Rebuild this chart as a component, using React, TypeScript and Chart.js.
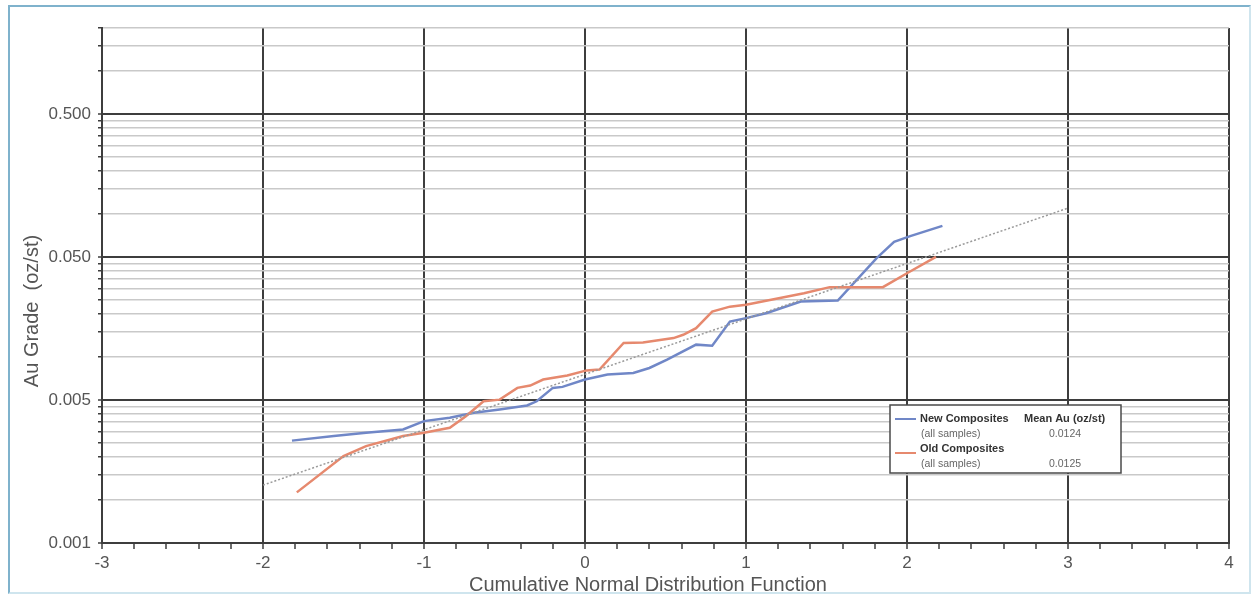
import { useEffect, useRef } from 'react';
import { Chart, registerables } from 'chart.js';

Chart.register(...registerables);

// Normal-score (z) positions and Au grades (oz/st) for each composite set
const newZ = [-1.82, -1.56, -1.36, -1.13, -1.0, -0.84, -0.69, -0.53, -0.36, -0.3, -0.2, -0.14, 0.0, 0.14, 0.3, 0.4, 0.51, 0.69, 0.79, 0.9, 1.0, 1.13, 1.34, 1.57, 1.81, 1.92, 2.02, 2.22];
const newAu = [0.0026, 0.0028, 0.00295, 0.00311, 0.00356, 0.00376, 0.00407, 0.0043, 0.00458, 0.0049, 0.00608, 0.00618, 0.00695, 0.00753, 0.00774, 0.00838, 0.00958, 0.0122, 0.012, 0.0177, 0.0187, 0.0203, 0.0244, 0.0248, 0.049, 0.064, 0.07, 0.0826];

const oldZ = [-1.79, -1.5, -1.36, -1.13, -1.0, -0.84, -0.74, -0.63, -0.53, -0.42, -0.34, -0.26, -0.11, 0.01, 0.09, 0.24, 0.36, 0.55, 0.61, 0.69, 0.79, 0.9, 1.0, 1.36, 1.52, 1.85, 2.0, 2.18];
const oldAu = [0.00113, 0.00203, 0.00238, 0.0028, 0.00295, 0.0032, 0.00385, 0.0049, 0.00503, 0.00608, 0.00631, 0.00695, 0.00742, 0.00806, 0.00816, 0.01252, 0.01265, 0.01356, 0.0143, 0.0159, 0.0208, 0.0225, 0.0232, 0.0279, 0.0308, 0.0308, 0.0385, 0.0502];

// Lognormal reference line
const trendZ = [-2, 3];
const trendAu = [0.00127, 0.11];

// Legend contents
const seriesNames = ['New Composites', 'Old Composites'];
const seriesNotes = ['(all samples)', '(all samples)'];
const meanHeader = 'Mean Au (oz/st)';
const meanAu = ['0.0124', '0.0125'];
const seriesColors = ['#7087c7', '#e6896e'];

// Axes
const xMin = -3;
const xMax = 4;
const xMajorTicks = [-3, -2, -1, 0, 1, 2, 3, 4];
const xTickLabels = ['-3', '-2', '-1', '0', '1', '2', '3', '4'];
const yMin = 0.0005;
const yMax = 2;
const yMajorTicks = [0.0005, 0.005, 0.05, 0.5];
const yTickLabels = ['0.001', '0.005', '0.050', '0.500'];
const yMinorMultipliers = [2, 3, 4, 5, 6, 7, 8, 9, 10];
const xTitle = 'Cumulative Normal Distribution Function';
const yTitle = 'Au Grade  (oz/st)';

const FONT = '"Liberation Sans", Arial, Helvetica, sans-serif';
const MAJOR = '#3d3d3d';
const MINOR = '#c9c9c9';

const toPoints = (xs: number[], ys: number[]) => xs.map((x, i) => ({ x, y: ys[i] }));

const xTickValues: number[] = [];
for (let i = xMin * 5; i <= xMax * 5; i++) xTickValues.push(i / 5);

const yTickValues: number[] = [];
yMajorTicks.forEach((base) => {
  yTickValues.push(base);
  yMinorMultipliers.forEach((m) => {
    const v = base * m;
    if (v <= yMax * 1.0000001 && !yMajorTicks.some((b) => Math.abs(b - v) / b < 1e-6)) yTickValues.push(v);
  });
});

const isXMajor = (v: number) => xMajorTicks.some((m) => Math.abs(m - v) < 1e-6);
const yMajorIndex = (v: number) => yMajorTicks.findIndex((m) => Math.abs(m - v) / m < 1e-6);

const annotationPlugin = {
  id: 'gradeAnnotations',
  afterDraw(chart: any) {
    const { ctx, chartArea } = chart;
    ctx.save();

    // axis titles
    ctx.fillStyle = '#555';
    ctx.font = `20px ${FONT}`;
    ctx.textAlign = 'center';
    ctx.textBaseline = 'middle';
    ctx.fillText(xTitle, chartArea.left + 546, chartArea.bottom + 42);
    ctx.save();
    ctx.translate(chartArea.left - 70, chartArea.top + 283);
    ctx.rotate(-Math.PI / 2);
    ctx.fillText(yTitle, 0, 0);
    ctx.restore();

    // legend box
    const left = chartArea.right - 339;
    const top = chartArea.bottom - 138;
    const w = 231;
    const h = 68;
    ctx.fillStyle = '#ffffff';
    ctx.fillRect(left, top, w, h);
    ctx.strokeStyle = '#4a4a4a';
    ctx.lineWidth = 1.5;
    ctx.strokeRect(left, top, w, h);

    ctx.textAlign = 'left';
    ctx.textBaseline = 'middle';
    ctx.fillStyle = '#333';
    ctx.font = `bold 11px ${FONT}`;
    ctx.fillText(meanHeader, left + 134, top + 14);

    seriesNames.forEach((name, i) => {
      const ny = top + 14 + i * 30;
      ctx.strokeStyle = seriesColors[i];
      ctx.lineWidth = 2;
      ctx.beginPath();
      ctx.moveTo(left + 5, ny + i * 4);
      ctx.lineTo(left + 26, ny + i * 4);
      ctx.stroke();

      ctx.textAlign = 'left';
      ctx.fillStyle = '#333';
      ctx.font = `bold 11px ${FONT}`;
      ctx.fillText(name, left + 30, ny);

      ctx.fillStyle = '#666';
      ctx.font = `10.5px ${FONT}`;
      ctx.fillText(seriesNotes[i], left + 31, ny + 15);
      ctx.textAlign = 'center';
      ctx.fillText(meanAu[i], left + 175, ny + 15);
    });

    ctx.restore();
  },
};

export default function App() {
  const ref = useRef<HTMLCanvasElement>(null);

  useEffect(() => {
    const chart = new Chart(ref.current as HTMLCanvasElement, {
      type: 'scatter',
      data: {
        datasets: [
          {
            label: 'trend',
            data: toPoints(trendZ, trendAu),
            showLine: true,
            borderColor: '#9a9a9a',
            borderWidth: 1.5,
            borderDash: [2, 2],
            pointRadius: 0,
          },
          {
            label: seriesNames[1],
            data: toPoints(oldZ, oldAu),
            showLine: true,
            borderColor: seriesColors[1],
            borderWidth: 2.5,
            pointRadius: 0,
          },
          {
            label: seriesNames[0],
            data: toPoints(newZ, newAu),
            showLine: true,
            borderColor: seriesColors[0],
            borderWidth: 2.5,
            pointRadius: 0,
          },
        ],
      },
      options: {
        responsive: false,
        animation: false,
        devicePixelRatio: 1,
        layout: { padding: { top: 28, right: 26, left: 0, bottom: 0 } },
        plugins: {
          legend: { display: false },
          tooltip: { enabled: false },
        },
        scales: {
          x: {
            type: 'linear',
            min: xMin,
            max: xMax,
            afterFit: (scale: any) => {
              scale.height = 52;
            },
            afterBuildTicks: (scale: any) => {
              scale.ticks = xTickValues.map((value) => ({ value }));
            },
            ticks: {
              autoSkip: false,
              maxRotation: 0,
              padding: 4,
              color: '#555',
              font: { family: FONT, size: 17 },
              callback: (v: any) => {
                const i = xMajorTicks.findIndex((m) => Math.abs(m - Number(v)) < 1e-6);
                return i >= 0 ? xTickLabels[i] : '';
              },
            },
            grid: {
              color: (c: any) => (c.tick && isXMajor(c.tick.value) ? MAJOR : 'rgba(0,0,0,0)'),
              lineWidth: 2,
              tickColor: MAJOR,
              tickLength: 6,
              tickWidth: 1.5,
            },
            border: { display: true, color: MAJOR, width: 2 },
          },
          y: {
            type: 'logarithmic',
            min: yMin,
            max: yMax,
            afterFit: (scale: any) => {
              scale.width = 102;
            },
            afterBuildTicks: (scale: any) => {
              scale.ticks = yTickValues.map((value) => ({ value }));
            },
            ticks: {
              autoSkip: false,
              padding: 7,
              color: '#555',
              font: { family: FONT, size: 17 },
              callback: (v: any) => {
                const i = yMajorIndex(Number(v));
                return i >= 0 ? yTickLabels[i] : '';
              },
            },
            grid: {
              color: (c: any) => (c.tick && yMajorIndex(c.tick.value) >= 0 ? MAJOR : MINOR),
              lineWidth: (c: any) => (c.tick && yMajorIndex(c.tick.value) >= 0 ? 2 : 1.5),
              tickColor: MAJOR,
              tickLength: 4,
              tickWidth: 1.5,
            },
            border: { display: true, color: MAJOR, width: 2 },
          },
        },
      },
      plugins: [annotationPlugin],
    } as any);
    return () => chart.destroy();
  }, []);

  return (
    <div style={{ position: 'absolute', left: 0, top: 0, width: 1255, height: 595, background: '#fff', overflow: 'hidden' }}>
      <canvas ref={ref} width={1255} height={595} style={{ display: 'block' }} />
      <div
        style={{
          position: 'absolute',
          left: 8,
          top: 5,
          width: 1243,
          height: 589,
          boxSizing: 'border-box',
          borderTop: '2px solid #7fb2cc',
          borderLeft: '2px solid #7fb2cc',
          borderRight: '2px solid #cfe5ee',
          borderBottom: '2px solid #cfe5ee',
          pointerEvents: 'none',
        }}
      />
    </div>
  );
}
